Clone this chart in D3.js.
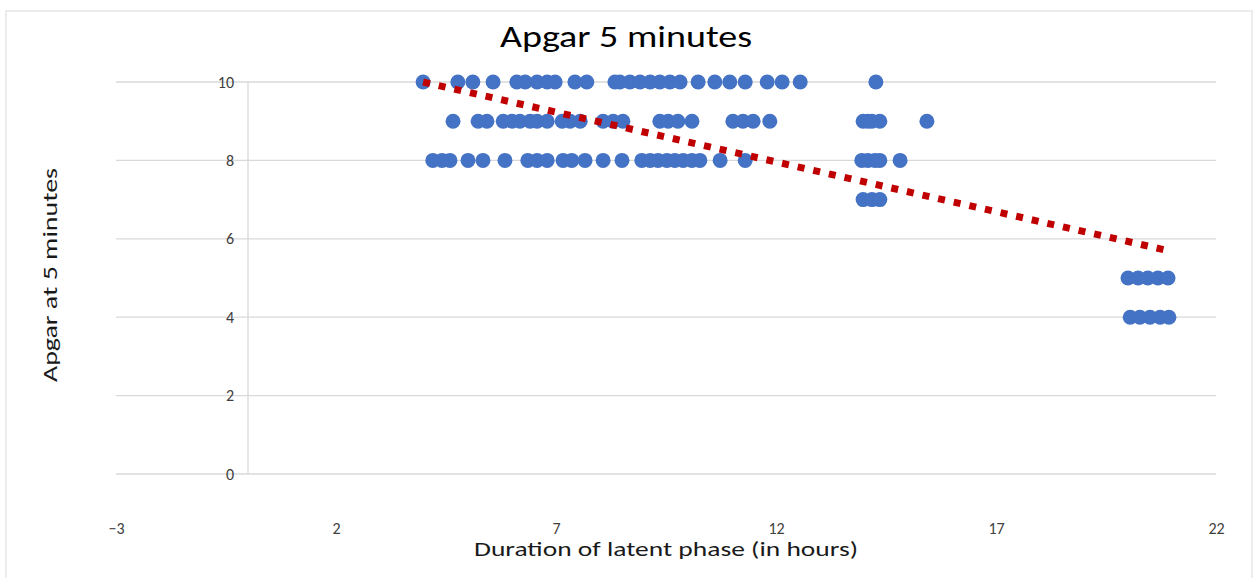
<!DOCTYPE html>
<html>
<head>
<meta charset="utf-8">
<script src="https://cdn.jsdelivr.net/npm/d3@7"></script>
<style>
  body { margin: 0; background: #fff; }
  text { font-family: Carlito, "Open Sans", "Noto Sans", sans-serif; }
</style>
</head>
<body>
<div id="chart"></div>
<script>
var svg_width = 1254;
var svg_height = 578;

// duration of latent phase (hours), one list per apgar score row
var hours_10 = [3.98, 4.77, 5.11, 5.57, 6.11, 6.30, 6.57, 6.80, 6.98, 7.43, 7.70, 8.34, 8.45, 8.68, 8.91, 9.14, 9.36, 9.59, 9.82, 10.23, 10.61, 10.95, 11.30, 11.80, 12.14, 12.55, 14.27];
var hours_9 = [4.66, 5.23, 5.43, 5.80, 6.00, 6.18, 6.41, 6.57, 6.80, 7.14, 7.32, 7.55, 8.07, 8.30, 8.52, 9.36, 9.55, 9.77, 10.09, 11.02, 11.25, 11.48, 11.86, 13.98, 14.09, 14.18, 14.36, 15.43];
var hours_8 = [4.20, 4.41, 4.59, 5.00, 5.34, 5.84, 6.36, 6.57, 6.80, 7.16, 7.36, 7.66, 8.07, 8.50, 8.95, 9.14, 9.32, 9.52, 9.70, 9.89, 10.09, 10.27, 10.73, 11.30, 13.95, 14.09, 14.25, 14.36, 14.82];
var hours_7 = [13.98, 14.18, 14.36];
var hours_5 = [20.00, 20.23, 20.45, 20.68, 20.91];
var hours_4 = [20.05, 20.27, 20.50, 20.73, 20.93];

// linear trendline
var trend_range = [3.98, 20.85];
var trend_intercept = 11.01;
var trend_slope = -0.254;

var x_ticks = [-3, 2, 7, 12, 17, 22];
var y_ticks = [0, 2, 4, 6, 8, 10];

var margin = ({top: 82, right: 38, bottom: 104, left: 116});

var points = [];
[[10, hours_10], [9, hours_9], [8, hours_8], [7, hours_7], [5, hours_5], [4, hours_4]]
    .forEach(function (row) {
        row[1].forEach(h => points.push({x: h, y: row[0]}));
    });

var x = d3.scaleLinear()
    .domain([-3, 22])
    .range([margin.left, svg_width - margin.right]);

var y = d3.scaleLinear()
    .domain([0, 10])
    .range([svg_height - margin.bottom, margin.top]);

const svg = d3.select("#chart")
    .append("svg")
    .attr("width", svg_width)
    .attr("height", svg_height);

// chart border
svg.append("rect")
    .attr("x", 6).attr("y", 11)
    .attr("width", svg_width - 8).attr("height", svg_height)
    .attr("fill", "#fff")
    .attr("stroke", "#ececec")
    .attr("stroke-width", 2);

// horizontal gridlines
svg.append("g")
    .selectAll("line")
    .data(y_ticks)
    .join("line")
      .attr("x1", x(-3))
      .attr("x2", x(22))
      .attr("y1", d => y(d))
      .attr("y2", d => y(d))
      .attr("stroke", "#d9d9d9")
      .attr("stroke-width", 1.3);

// vertical axis line at x = 0
svg.append("line")
    .attr("x1", x(0)).attr("x2", x(0))
    .attr("y1", y(10)).attr("y2", y(0))
    .attr("stroke", "#d9d9d9")
    .attr("stroke-width", 1.3);

var yAxis = g => g
    .attr("transform", `translate(${x(0)},0)`)
    .call(d3.axisLeft(y).tickValues(y_ticks).tickSize(0).tickPadding(14))
    .call(g => g.select(".domain").remove())
    .call(g => g.selectAll("text")
        .attr("font-size", "16px")
        .attr("fill", "#404040")
        .style("font-family", "Carlito, 'Open Sans', sans-serif"));

var xAxis = g => g
    .attr("transform", `translate(0,${y(0)})`)
    .call(d3.axisBottom(x).tickValues(x_ticks).tickSize(0).tickPadding(49))
    .call(g => g.select(".domain").remove())
    .call(g => g.selectAll("text")
        .attr("font-size", "16px")
        .attr("fill", "#404040")
        .style("font-family", "Carlito, 'Open Sans', sans-serif"));

svg.append("g").call(yAxis);
svg.append("g").call(xAxis);

// scatter points
svg.append("g")
    .selectAll("circle")
    .data(points)
    .join("circle")
      .attr("cx", d => x(d.x))
      .attr("cy", d => y(d.y))
      .attr("r", 7.5)
      .attr("fill", "#4472c4");

// dotted trendline
var line = d3.line()
    .x(d => x(d))
    .y(d => y(trend_intercept + trend_slope * d));

svg.append("path")
    .datum(trend_range)
    .attr("d", line)
    .attr("fill", "none")
    .attr("stroke", "#c00000")
    .attr("stroke-width", 7)
    .attr("stroke-dasharray", "7 9");

// titles (reference text is stretched wide, so fit to measured widths)
svg.append("text")
    .attr("x", 500).attr("y", 47)
    .attr("font-size", "31px")
    .attr("fill", "#000")
    .attr("textLength", 252)
    .attr("lengthAdjust", "spacingAndGlyphs")
    .text("Apgar 5 minutes");

svg.append("text")
    .attr("x", 474).attr("y", 556)
    .attr("font-size", "20px")
    .attr("fill", "#1a1a1a")
    .attr("textLength", 384)
    .attr("lengthAdjust", "spacingAndGlyphs")
    .text("Duration of latent phase (in hours)");

svg.append("text")
    .attr("transform", `translate(57,382) rotate(-90)`)
    .attr("font-size", "20px")
    .attr("fill", "#1a1a1a")
    .attr("textLength", 214)
    .attr("lengthAdjust", "spacingAndGlyphs")
    .text("Apgar at 5 minutes");
</script>
</body>
</html>
